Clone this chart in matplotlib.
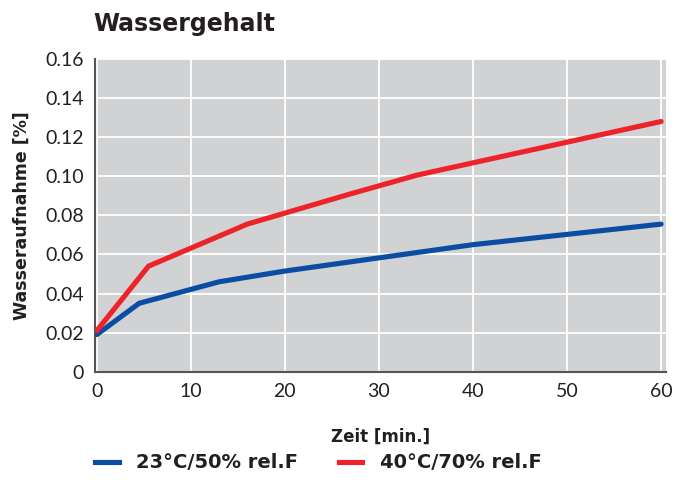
import matplotlib
matplotlib.use("Agg")
import matplotlib.pyplot as plt
from matplotlib.lines import Line2D

# Wasseraufnahme über die Zeit
zeit_23 = [0, 4.5, 13, 20, 40, 60]
wasser_23 = [0.019, 0.035, 0.046, 0.0515, 0.065, 0.0755]

zeit_40 = [0, 5.5, 16, 27, 34, 60]
wasser_40 = [0.021, 0.054, 0.0755, 0.091, 0.1005, 0.128]

labels = ["23°C/50% rel.F", "40°C/70% rel.F"]
colors = ["#0B4DA2", "#EE2229"]

xticks = [0, 10, 20, 30, 40, 50, 60]
yticks = [0, 0.02, 0.04, 0.06, 0.08, 0.10, 0.12, 0.14, 0.16]
yticklabels = ["0", "0.02", "0.04", "0.06", "0.08", "0.10", "0.12", "0.14", "0.16"]

plt.rcParams["font.family"] = ["Lato", "DejaVu Sans"]
heavy = ["DejaVu Sans"]

fig = plt.figure(figsize=(6.78, 4.95), dpi=100)
ax = fig.add_axes([0.140, 0.249, 0.842, 0.632])
ax.set_facecolor("#D1D2D4")

ax.plot(zeit_23, wasser_23, color=colors[0], lw=3.7, solid_capstyle="round", zorder=3)
ax.plot(zeit_40, wasser_40, color=colors[1], lw=3.7, solid_capstyle="round", zorder=4)

ax.set_xlim(-0.2, 60.5)
ax.set_ylim(0, 0.16)
ax.set_xticks(xticks)
ax.set_yticks(yticks)
ax.set_yticklabels(yticklabels)
ax.tick_params(length=0, labelsize=14, colors="#231F20", pad=8)
ax.grid(color="white", lw=1.3)
ax.set_axisbelow(True)

for s in ["top", "right"]:
    ax.spines[s].set_visible(False)
for s in ["left", "bottom"]:
    ax.spines[s].set_color("#555555")
    ax.spines[s].set_linewidth(1.5)

ax.set_ylabel("Wasseraufnahme [%]", fontsize=12.5, fontweight="bold",
              family=heavy, color="#231F20", labelpad=10)
ax.set_xlabel("Zeit [min.]", fontsize=12, fontweight="bold",
              family=heavy, color="#231F20", labelpad=20)

fig.text(0.137, 0.952, "Wassergehalt", fontsize=17, fontweight="bold",
         family=heavy, color="#231F20", ha="left", va="center")

handles = [Line2D([], [], color=c, lw=3.7) for c in colors]
fig.legend(handles, labels, loc="center left", bbox_to_anchor=(0.115, 0.065),
           ncol=2, frameon=False, handlelength=1.2, handletextpad=0.9,
           columnspacing=2.1, prop={"size": 14, "weight": "bold", "family": heavy},
           labelcolor="#231F20")

fig.savefig("out.png", dpi=100)
